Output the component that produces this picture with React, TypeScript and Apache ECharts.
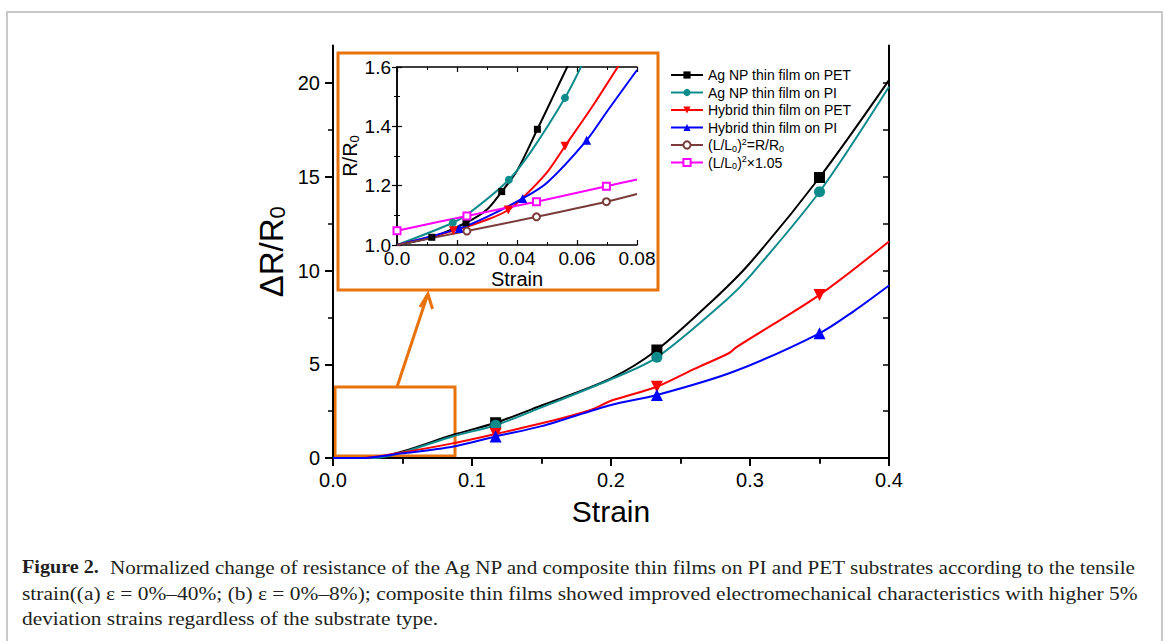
import React, { useEffect, useRef } from 'react';
import * as echarts from 'echarts';

// ---------- data ----------
const seriesNames = [
  'Ag NP thin film on PET',
  'Ag NP thin film on PI',
  'Hybrid thin film on PET',
  'Hybrid thin film on PI',
  '(L/L0)^2=R/R0',
  '(L/L0)^2×1.05',
];

// main chart (strain 0–0.4, ΔR/R0)
const mainAgPET: [number, number][] = [
  [0, 0], [0.027, 0], [0.05, 0.35], [0.086, 1.23], [0.117, 1.88], [0.15, 2.8], [0.2, 4.25],
  [0.233, 5.76], [0.2736, 8.43], [0.3, 10.4], [0.35, 14.96], [0.4, 20.15],
];
const mainAgPETMarks = [4, 7, 10];
const mainAgPI: [number, number][] = [
  [0, 0], [0.03, 0], [0.05, 0.3], [0.086, 1.15], [0.117, 1.75], [0.15, 2.7], [0.2, 4.2],
  [0.233, 5.37], [0.283, 8.43], [0.3, 9.7], [0.35, 14.2], [0.4, 19.8],
];
const mainAgPIMarks = [4, 7, 10];
const mainHyPET: [number, number][] = [
  [0, 0], [0.02, 0], [0.05, 0.3], [0.086, 0.78], [0.117, 1.28], [0.15, 1.85], [0.185, 2.55],
  [0.2, 3.05], [0.233, 3.8], [0.26, 4.75], [0.285, 5.6], [0.29, 5.9], [0.35, 8.7], [0.4, 11.55],
];
const mainHyPETMarks = [4, 8, 12];
const mainHyPI: [number, number][] = [
  [0, 0], [0.02, 0], [0.05, 0.25], [0.086, 0.6], [0.117, 1.15], [0.15, 1.7], [0.2, 2.83],
  [0.233, 3.36], [0.288, 4.6], [0.35, 6.65], [0.375, 7.85], [0.4, 9.2],
];
const mainHyPIMarks = [4, 7, 9];

// inset (strain 0–0.08, R/R0)
const insAgPET: [number, number][] = [
  [0, 1.0], [0.0116, 1.026], [0.023, 1.075], [0.03, 1.12], [0.0349, 1.18], [0.04, 1.25],
  [0.0468, 1.39], [0.052, 1.5], [0.0572, 1.61],
];
const insAgPETMarks = [1, 2, 4, 6];
const insAgPI: [number, number][] = [
  [0, 1.0], [0.0186, 1.075], [0.025, 1.115], [0.0373, 1.22], [0.045, 1.32], [0.056, 1.496], [0.0618, 1.61],
];
const insAgPIMarks = [1, 3, 5];
const insHyPET: [number, number][] = [
  [0, 1.0], [0.0188, 1.048], [0.03, 1.085], [0.0371, 1.118], [0.042, 1.16], [0.05, 1.245],
  [0.056, 1.333], [0.065, 1.465], [0.0742, 1.61],
];
const insHyPETMarks = [1, 3, 6];
const insHyPI: [number, number][] = [
  [0, 1.0], [0.0208, 1.056], [0.03, 1.095], [0.0419, 1.157], [0.05, 1.21], [0.0632, 1.353],
  [0.07, 1.45], [0.08, 1.59],
];
const insHyPIMarks = [1, 3, 5];
const insLL0: [number, number][] = [
  [0, 1.0], [0.0233, 1.047], [0.0465, 1.095], [0.0698, 1.146], [0.08, 1.172],
];
const insLL0Marks = [1, 2, 3];
const insLL0x105: [number, number][] = [
  [0, 1.048], [0.0233, 1.098], [0.0465, 1.146], [0.0698, 1.198], [0.08, 1.221],
];
const insLL0x105Marks = [0, 1, 2, 3];

const mainYTicks = [0, 5, 10, 15, 20];
const mainYMinor = [2.5, 7.5, 12.5, 17.5];
const mainYRight = [2.5, 5, 7.5, 10, 12.5, 15, 17.5, 20];

const captionLine1Bold = 'Figure 2.';
const captionLine1 = 'Normalized change of resistance of the Ag NP and composite thin films on PI and PET substrates according to the tensile';
const captionLine2 = 'strain((a) ε = 0%–40%; (b) ε = 0%–8%); composite thin films showed improved electromechanical characteristics with higher 5%';
const captionLine3 = 'deviation strains regardless of the substrate type.';

// ---------- styles ----------
const C_BLACK = '#000000';
const C_TEAL = '#0e8c8c';
const C_RED = '#ff0000';
const C_BLUE = '#0000ff';
const C_BROWN = '#7b3b3b';
const C_MAG = '#ff00ff';
const C_ORANGE = '#e8720c';
const SANS = '"Liberation Sans", Arial, sans-serif';
const SERIF = '"Liberation Serif", "Times New Roman", serif';

function line(
  name: string, data: [number, number][], marks: number[], color: string, symbol: string,
  size: number, xi: number, yi: number, rotate = 0,
) {
  return {
    type: 'line', name, xAxisIndex: xi, yAxisIndex: yi,
    data: data.map((p, i) => (marks.includes(i) ? { value: p } : { value: p, symbol: 'none' })),
    symbol, symbolSize: size, symbolRotate: rotate, showAllSymbol: true, smooth: 0.3,
    lineStyle: { color, width: 2 },
    itemStyle: { color, borderColor: color, borderWidth: symbol.startsWith('empty') ? 1.5 : 0 },
    clip: true, silent: true, emphasis: { disabled: true },
  };
}

function measure(text: string, font: string) {
  const c = document.createElement('canvas');
  const ctx = c.getContext('2d')!;
  ctx.font = font;
  return ctx.measureText(text).width;
}

export default function App() {
  const ref = useRef<HTMLDivElement>(null);
  useEffect(() => {
    if (!ref.current) return;
    const chart = echarts.init(ref.current, undefined, { renderer: 'svg' });

    const capSize = 19;
    const capFont = `${capSize}px ${SERIF}`;
    const w1 = measure(captionLine1, capFont);
    const w2 = measure(captionLine2, capFont);
    const w3 = measure(captionLine3, capFont);
    const s1 = (1138 - 110) / w1;
    const s2 = (1138 - 22) / w2;
    const s3 = (438 - 22) / w3;
    const wb = measure(captionLine1Bold, `bold ${capSize}px ${SERIF}`);
    const sb = (99 - 22) / wb;

    const richSub = {
      sub: { fontSize: 9, fontFamily: SANS, color: '#000', verticalAlign: 'bottom', padding: [7, 0, 0, 0], lineHeight: 10 },
      sup: { fontSize: 9, fontFamily: SANS, color: '#000', verticalAlign: 'top', padding: [0, 0, 7, 0], lineHeight: 10 },
    };

    const legendFmt = (n: string) => {
      if (n === seriesNames[4]) return '(L/L{sub|0}){sup|2}=R/R{sub|0}';
      if (n === seriesNames[5]) return '(L/L{sub|0}){sup|2}×1.05';
      return n;
    };

    const axisBase = {
      type: 'value', splitLine: { show: false },
      axisLine: { show: true, lineStyle: { color: '#000', width: 2 } },
    };

    const option: any = {
      animation: false,
      backgroundColor: '#fff',
      grid: [
        { left: 333, top: 45.5, width: 556, height: 412.5 },
        { left: 397, top: 67, width: 240, height: 178 },
      ],
      xAxis: [
        {
          ...axisBase, gridIndex: 0, position: 'bottom', min: 0, max: 0.4, interval: 0.1,
          axisTick: { show: true, length: 8, lineStyle: { width: 2, color: '#000' } },
          minorTick: { show: true, splitNumber: 2, length: 5, lineStyle: { width: 1.5, color: '#000' } },
          axisLabel: { fontSize: 20, fontFamily: SANS, color: '#000', margin: 12, formatter: (v: number) => v.toFixed(1) },
          name: 'Strain', nameLocation: 'middle', nameGap: 38,
          nameTextStyle: { fontSize: 30, fontFamily: SANS, color: '#000' },
        },
        {
          ...axisBase, gridIndex: 0, position: 'top', min: 0, max: 0.4, interval: 0.05,
          axisTick: { show: true, inside: true, length: 6, lineStyle: { width: 1.5, color: '#000' } },
          axisLabel: { show: false },
        },
        {
          ...axisBase, gridIndex: 1, position: 'bottom', min: 0, max: 0.08, interval: 0.02,
          axisLine: { show: true, lineStyle: { color: '#000', width: 1.5 } },
          axisTick: { show: true, inside: true, length: 5, lineStyle: { width: 1.2, color: '#000' } },
          minorTick: { show: true, splitNumber: 2, length: 3, lineStyle: { width: 1, color: '#000' } },
          axisLabel: {
            fontSize: 19, fontFamily: SANS, color: '#000', margin: 4,
            formatter: (v: number) => (v === 0 ? '0.0' : v.toFixed(2)),
          },
          name: 'Strain', nameLocation: 'middle', nameGap: 17,
          nameTextStyle: { fontSize: 20, fontFamily: SANS, color: '#000' },
        },
        {
          ...axisBase, gridIndex: 1, position: 'top', min: 0, max: 0.08, interval: 0.02,
          axisLine: { show: true, lineStyle: { color: '#000', width: 1.5 } },
          axisTick: { show: true, inside: true, length: 5, lineStyle: { width: 1.2, color: '#000' } },
          minorTick: { show: true, splitNumber: 2, length: 3, lineStyle: { width: 1, color: '#000' } },
          axisLabel: { show: false },
        },
      ],
      yAxis: [
        {
          ...axisBase, gridIndex: 0, position: 'left', min: 0, max: 22,
          axisTick: { show: true, length: 8, customValues: mainYTicks, lineStyle: { width: 2, color: '#000' } },
          axisLabel: { fontSize: 20, fontFamily: SANS, color: '#000', margin: 13, customValues: mainYTicks },
          name: 'ΔR/R{sub|0}', nameLocation: 'middle', nameRotate: 90, nameGap: 45,
          nameTextStyle: {
            fontSize: 33, fontFamily: SANS, color: '#000',
            rich: { sub: { fontSize: 22, fontFamily: SANS, color: '#000', verticalAlign: 'bottom', padding: [12, 0, 0, 0] } },
          },
        },
        {
          ...axisBase, gridIndex: 0, position: 'left', min: 0, max: 22,
          axisLine: { show: false },
          axisTick: { show: true, length: 5, customValues: mainYMinor, lineStyle: { width: 1.5, color: '#000' } },
          axisLabel: { show: false },
        },
        {
          ...axisBase, gridIndex: 0, position: 'right', min: 0, max: 22,
          axisTick: { show: true, inside: true, length: 6, customValues: mainYRight, lineStyle: { width: 1.5, color: '#000' } },
          axisLabel: { show: false },
        },
        {
          ...axisBase, gridIndex: 1, position: 'left', min: 1, max: 1.6, interval: 0.2,
          axisLine: { show: true, lineStyle: { color: '#000', width: 1.5 } },
          axisTick: { show: true, inside: true, length: 5, lineStyle: { width: 1.2, color: '#000' } },
          minorTick: { show: true, splitNumber: 2, length: 3, lineStyle: { width: 1, color: '#000' } },
          axisLabel: { fontSize: 19, fontFamily: SANS, color: '#000', margin: 6, formatter: (v: number) => v.toFixed(1) },
          name: 'R/R{sub|0}', nameLocation: 'middle', nameRotate: 90, nameGap: 36,
          nameTextStyle: {
            fontSize: 20, fontFamily: SANS, color: '#000',
            rich: { sub: { fontSize: 13, fontFamily: SANS, color: '#000', verticalAlign: 'bottom', padding: [8, 0, 0, 0] } },
          },
        },
        {
          ...axisBase, gridIndex: 1, position: 'right', min: 1, max: 1.6, interval: 0.2,
          axisLine: { show: true, lineStyle: { color: '#000', width: 1.5 } },
          axisTick: { show: true, inside: true, length: 5, lineStyle: { width: 1.2, color: '#000' } },
          minorTick: { show: true, splitNumber: 2, length: 3, lineStyle: { width: 1, color: '#000' } },
          axisLabel: { show: false },
        },
      ],
      legend: {
        show: true, orient: 'vertical', left: 665, top: 62, itemWidth: 32, itemHeight: 9, itemGap: 1.5,
        selectedMode: false, data: seriesNames, formatter: legendFmt,
        textStyle: { fontSize: 14, fontFamily: SANS, color: '#000', lineHeight: 16, rich: richSub },
      },
      series: [
        line(seriesNames[0], insAgPET, insAgPETMarks, C_BLACK, 'rect', 7, 2, 3),
        line(seriesNames[1], insAgPI, insAgPIMarks, C_TEAL, 'circle', 8, 2, 3),
        line(seriesNames[2], insHyPET, insHyPETMarks, C_RED, 'triangle', 9, 2, 3, 180),
        line(seriesNames[3], insHyPI, insHyPIMarks, C_BLUE, 'triangle', 9, 2, 3),
        line(seriesNames[4], insLL0, insLL0Marks, C_BROWN, 'emptyCircle', 7, 2, 3),
        line(seriesNames[5], insLL0x105, insLL0x105Marks, C_MAG, 'emptyRect', 7, 2, 3),
        line(seriesNames[0], mainAgPET, mainAgPETMarks, C_BLACK, 'rect', 11, 0, 0),
        line(seriesNames[1], mainAgPI, mainAgPIMarks, C_TEAL, 'circle', 11, 0, 0),
        line(seriesNames[2], mainHyPET, mainHyPETMarks, C_RED, 'triangle', 12, 0, 0, 180),
        line(seriesNames[3], mainHyPI, mainHyPIMarks, C_BLUE, 'triangle', 12, 0, 0),
      ],
      graphic: [
        { type: 'rect', shape: { x: 7, y: 12, width: 1155, height: 640 }, style: { fill: 'none', stroke: '#c8c8c8', lineWidth: 2 }, silent: true },
        { type: 'rect', shape: { x: 338, y: 53, width: 320, height: 237 }, style: { fill: 'none', stroke: C_ORANGE, lineWidth: 3 }, silent: true },
        { type: 'rect', shape: { x: 335, y: 387, width: 120, height: 69 }, style: { fill: 'none', stroke: C_ORANGE, lineWidth: 3 }, silent: true },
        { type: 'line', shape: { x1: 397, y1: 387, x2: 427.5, y2: 295 }, style: { stroke: C_ORANGE, lineWidth: 3 }, silent: true },
        { type: 'polyline', shape: { points: [[420, 307], [428, 294], [432.5, 309]] }, style: { fill: 'none', stroke: C_ORANGE, lineWidth: 3 }, silent: true },
        {
          type: 'text', x: 22, y: 567, scaleX: sb, silent: true,
          style: { text: captionLine1Bold, font: `bold ${capSize}px ${SERIF}`, fill: '#231f20', verticalAlign: 'middle', align: 'left' },
        },
        {
          type: 'text', x: 110, y: 567, scaleX: s1, silent: true,
          style: { text: captionLine1, font: capFont, fill: '#231f20', verticalAlign: 'middle', align: 'left' },
        },
        {
          type: 'text', x: 22, y: 593, scaleX: s2, silent: true,
          style: { text: captionLine2, font: capFont, fill: '#231f20', verticalAlign: 'middle', align: 'left' },
        },
        {
          type: 'text', x: 22, y: 618, scaleX: s3, silent: true,
          style: { text: captionLine3, font: capFont, fill: '#231f20', verticalAlign: 'middle', align: 'left' },
        },
      ],
    };
    chart.setOption(option);
    return () => chart.dispose();
  }, []);
  return (
    <div
      ref={ref}
      style={{ position: 'absolute', left: 0, top: 0, width: 1168, height: 641, background: '#fff' }}
    />
  );
}
